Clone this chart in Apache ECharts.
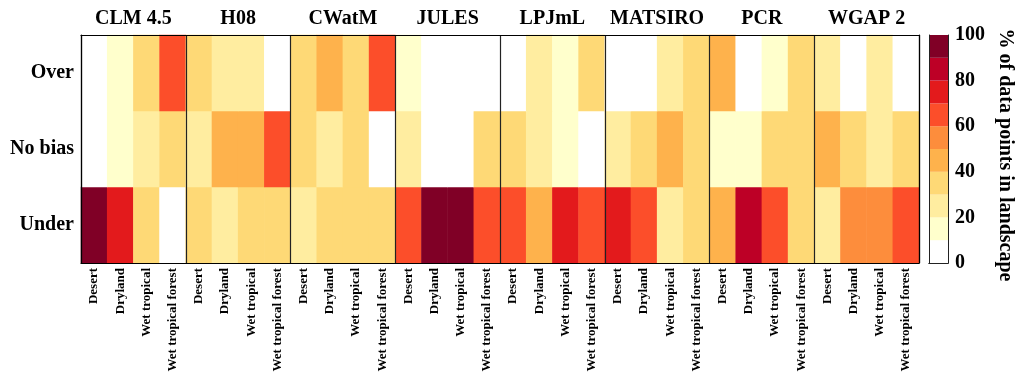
<!DOCTYPE html>
<html>
<head>
<meta charset="utf-8">
<script src="https://cdn.jsdelivr.net/npm/echarts@6/dist/echarts.min.js"></script>
<style>
  html, body { margin: 0; padding: 0; background: #fff; }
  #chart { width: 1016px; height: 376px; }
</style>
</head>
<body>
<div id="chart"></div>
<script>
// Models and landscape types shown along the x axis
const models = ['CLM 4.5', 'H08', 'CWatM', 'JULES', 'LPJmL', 'MATSIRO', 'PCR', 'WGAP 2'];
const landscapes = ['Desert', 'Dryland', 'Wet tropical', 'Wet tropical forest'];
const rows = ['Under', 'No bias', 'Over'];

// % of data points in each landscape, one value per model/landscape column
const overVals = [
  3, 14, 36, 62,
  38, 27, 22, 4,
  38, 42, 33, 62,
  15, 2, 2, 3,
  5, 28, 13, 33,
  3, 5, 28, 33,
  42, 3, 12, 35,
  28, 5, 22, 4
];
const noBiasVals = [
  2, 12, 28, 33,
  27, 46, 43, 62,
  36, 25, 33, 3,
  22, 2, 2, 33,
  32, 27, 13, 3,
  25, 31, 45, 33,
  14, 12, 31, 32,
  45, 38, 25, 34
];
const underVals = [
  95, 74, 36, 5,
  35, 27, 35, 34,
  26, 33, 34, 35,
  63, 96, 96, 64,
  63, 45, 74, 64,
  72, 64, 27, 34,
  44, 85, 62, 33,
  27, 57, 53, 62
];

// Colour scale: 10 bins of 10 %
const binEdges = [0, 10, 20, 30, 40, 50, 60, 70, 80, 90, 100];
const binColors = ['#ffffff', '#ffffcc', '#ffeda0', '#fed976', '#feb24c',
                   '#fd8d3c', '#fc4e2a', '#e31a1c', '#bd0026', '#800026'];
const colorbarTicks = [0, 20, 40, 60, 80, 100];

const FONT = "'Liberation Serif', 'Times New Roman', serif";

const columns = [];
models.forEach(m => landscapes.forEach(l => columns.push(l)));

const heatData = [];
[underVals, noBiasVals, overVals].forEach((vals, r) => {
  vals.forEach((v, c) => heatData.push([c, r, v]));
});

const pieces = binColors.map((c, i) => (
  i === binColors.length - 1
    ? { gte: binEdges[i], lte: binEdges[i + 1], color: c }
    : { gte: binEdges[i], lt: binEdges[i + 1], color: c }
));

const lineStyle = { color: '#000', width: 1.2 };

const colorbarSeries = binColors.map((c, i) => ({
  type: 'bar',
  xAxisIndex: 3,
  yAxisIndex: 2,
  stack: 'cbar',
  barWidth: '100%',
  silent: true,
  itemStyle: { color: c },
  data: [binEdges[i + 1] - binEdges[i]]
}));

const option = {
  backgroundColor: '#fff',
  animation: false,
  textStyle: { fontFamily: FONT },
  grid: [
    { left: 81, right: 97, top: 35, bottom: 113 },
    { left: 929, width: 26, top: 35, bottom: 113 }
  ],
  visualMap: {
    type: 'piecewise',
    show: false,
    seriesIndex: 0,
    pieces: pieces
  },
  xAxis: [
    {
      type: 'category', gridIndex: 0, data: columns, position: 'bottom',
      z: 10,
      axisLine: { show: true, lineStyle: lineStyle },
      axisTick: { show: false },
      splitLine: { show: false },
      axisLabel: {
        interval: 0, rotate: 90, margin: 5,
        fontFamily: FONT, fontWeight: 'bold', fontSize: 13, color: '#000'
      }
    },
    {
      type: 'category', gridIndex: 0, data: models, position: 'top',
      z: 10,
      axisLine: { show: true, lineStyle: lineStyle },
      axisTick: { show: false },
      splitLine: { show: true, interval: 0, lineStyle: { color: '#222', width: 1.2 } },
      axisLabel: {
        interval: 0, margin: 6,
        fontFamily: FONT, fontWeight: 'bold', fontSize: 20, color: '#000'
      }
    },
    {
      type: 'category', gridIndex: 1, data: [''], position: 'top',
      z: 10,
      axisLine: { show: true, lineStyle: { color: '#222', width: 1 } },
      axisTick: { show: false }, axisLabel: { show: false }
    },
    {
      type: 'category', gridIndex: 1, data: [''], position: 'bottom',
      z: 10,
      axisLine: { show: true, lineStyle: { color: '#222', width: 1 } },
      axisTick: { show: false }, axisLabel: { show: false }
    }
  ],
  yAxis: [
    {
      type: 'category', gridIndex: 0, data: rows, position: 'left',
      z: 10,
      axisLine: { show: true, lineStyle: lineStyle },
      axisTick: { show: false },
      axisLabel: {
        margin: 7,
        fontFamily: FONT, fontWeight: 'bold', fontSize: 20, color: '#000'
      }
    },
    {
      type: 'category', gridIndex: 0, data: rows, position: 'right',
      z: 10,
      axisLine: { show: true, lineStyle: lineStyle },
      axisTick: { show: false }, axisLabel: { show: false }
    },
    {
      type: 'value', gridIndex: 1, min: 0, max: 100, interval: 20,
      position: 'right',
      z: 10,
      axisLine: { show: true, lineStyle: { color: '#222', width: 1 } },
      axisTick: { show: false },
      splitLine: { show: false },
      axisLabel: {
        margin: 7, showMinLabel: true, showMaxLabel: true,
        fontFamily: FONT, fontWeight: 'bold', fontSize: 20, color: '#000',
        customValues: colorbarTicks
      },
      name: '% of data points in landscape',
      nameLocation: 'middle',
      nameRotate: -90,
      nameGap: 47,
      nameTextStyle: {
        fontFamily: FONT, fontWeight: 'bold', fontSize: 20, color: '#000',
        padding: [0, 0, 0, 12]
      }
    },
    {
      type: 'value', gridIndex: 1, min: 0, max: 100, position: 'left',
      z: 10,
      axisLine: { show: true, lineStyle: { color: '#222', width: 1 } },
      axisTick: { show: false }, axisLabel: { show: false },
      splitLine: { show: false }
    }
  ],
  series: [
    {
      type: 'heatmap',
      xAxisIndex: 0,
      yAxisIndex: 0,
      data: heatData,
      silent: true,
      itemStyle: { borderWidth: 0 }
    }
  ].concat(colorbarSeries)
};

const chart = echarts.init(document.getElementById('chart'), null, { renderer: 'canvas' });
chart.setOption(option);
</script>
</body>
</html>
